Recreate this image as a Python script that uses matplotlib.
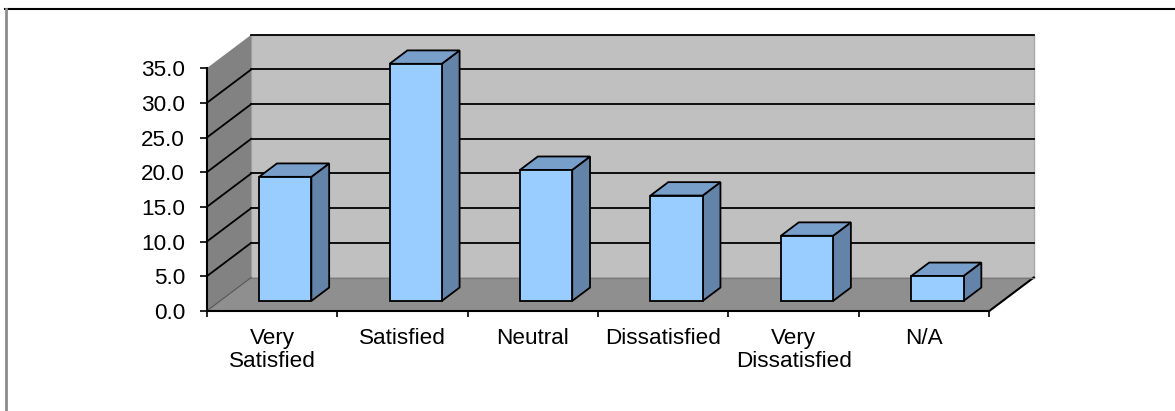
import matplotlib
matplotlib.use("Agg")
import matplotlib.pyplot as plt
from matplotlib.patches import Polygon
from matplotlib.lines import Line2D

# Survey responses (percent)
categories = ["Very\nSatisfied", "Satisfied", "Neutral", "Dissatisfied",
              "Very\nDissatisfied", "N/A"]
values = [17.9, 34.2, 18.9, 15.2, 9.4, 3.6]
y_ticks = [0, 5, 10, 15, 20, 25, 30, 35]

plt.rcParams["font.family"] = ["Liberation Sans", "DejaVu Sans"]

W, H = 1175, 411
fig = plt.figure(figsize=(W / 100, H / 100), dpi=100)
fig.patch.set_facecolor("white")

# front plane of the plot area, in pixels
x_left, x_right = 206.7, 989.3
y_zero, y_top = 311.0, 68.3
ax = fig.add_axes([x_left / W, (H - y_zero) / H,
                   (x_right - x_left) / W, (y_zero - y_top) / H])
n = len(categories)
ymax = y_ticks[-1]
ax.set_xlim(0, n)
ax.set_ylim(0, ymax)
ax.patch.set_visible(False)

# oblique depth offset in data units
px_per_cat = (x_right - x_left) / n
px_per_val = (y_zero - y_top) / ymax
DX = 44.5 / px_per_cat
DY = 33.5 / px_per_val


def proj(x, y, z):
    return (x + z * DX, y + z * DY)


def poly(pts, fc, ec="none", lw=0.0, z=1):
    p = Polygon(pts, closed=True, facecolor=fc, edgecolor=ec, linewidth=lw,
                clip_on=False, zorder=z, joinstyle="miter")
    ax.add_patch(p)


# walls and floor
poly([proj(0, 0, 1), proj(n, 0, 1), proj(n, ymax, 1), proj(0, ymax, 1)],
     "#c0c0c0", ec="#a8a8a8", lw=1.0, z=1)
poly([proj(0, 0, 0), proj(0, ymax, 0), proj(0, ymax, 1), proj(0, 0, 1)],
     "#828282", z=1)
poly([proj(0, 0, 0), proj(n, 0, 0), proj(n, 0, 1), proj(0, 0, 1)],
     "#8f8f8f", z=1.1)

# floor right edge
ax.add_line(Line2D(*zip(proj(n, 0, 0), proj(n, 0, 1)), color="black",
                   lw=1.5, clip_on=False, zorder=1.2))
# floor back/left seams
ax.add_line(Line2D(*zip(proj(0, 0, 0), proj(0, 0, 1)), color="#555555",
                   lw=0.8, clip_on=False, zorder=1.2))
ax.add_line(Line2D(*zip(proj(0, 0, 1), proj(n, 0, 1)), color="#7a7a7a",
                   lw=0.8, clip_on=False, zorder=1.2))

# gridlines on side wall and back wall
for v in y_ticks[1:]:
    if v < ymax:
        ax.add_line(Line2D(*zip(proj(0, v, 0), proj(0, v, 1)), color="black",
                           lw=1.3, clip_on=False, zorder=1.3))
    ax.add_line(Line2D(*zip(proj(0, v, 1), proj(n, v, 1)), color="black",
                       lw=1.3, clip_on=False, zorder=1.3))

# 3D bars
front_c, top_c, side_c = "#99ccff", "#789fca", "#6483a8"
z0, z1 = 0.3, 0.7
for i, v in enumerate(values):
    x0, x1 = i + 0.3, i + 0.7
    zo = 2 + i * 0.01
    poly([proj(x1, 0, z0), proj(x1, 0, z1), proj(x1, v, z1), proj(x1, v, z0)],
         side_c, ec="black", lw=1.3, z=zo)
    poly([proj(x0, v, z0), proj(x1, v, z0), proj(x1, v, z1), proj(x0, v, z1)],
         top_c, ec="black", lw=1.3, z=zo)
    poly([proj(x0, 0, z0), proj(x1, 0, z0), proj(x1, v, z0), proj(x0, v, z0)],
         front_c, ec="black", lw=1.3, z=zo + 0.001)

# axes lines and ticks
for s in ("top", "right"):
    ax.spines[s].set_visible(False)
ax.spines["left"].set_bounds(0, ymax)
ax.spines["bottom"].set_bounds(0, n)
for s in ("left", "bottom"):
    ax.spines[s].set_linewidth(1.5)
    ax.spines[s].set_zorder(3)

ax.set_yticks(y_ticks)
ax.set_yticklabels([f"{v:.1f}" for v in y_ticks])
ax.tick_params(axis="y", direction="out", length=5, width=1.2,
               labelsize=16.2, pad=10.5)

ax.set_xticks(range(n + 1))
ax.set_xticklabels([])
ax.set_xticks([i + 0.5 for i in range(n)], minor=True)
ax.set_xticklabels(categories, minor=True)
ax.tick_params(axis="x", which="major", direction="out", length=4.5, width=1.2)
ax.tick_params(axis="x", which="minor", length=0, labelsize=16.2, pad=12.5)
for lbl in ax.get_xticklabels(minor=True):
    lbl.set_linespacing(1.12)

# chart frame
fig.add_artist(Line2D([5 / W, 1.0], [1 - 9.3 / H, 1 - 9.3 / H],
                      transform=fig.transFigure, color="black", lw=1.5))
fig.add_artist(Line2D([6 / W, 6 / W], [0.0, 1 - 9.3 / H],
                      transform=fig.transFigure, color="#8c8c8c", lw=2.0))

fig.savefig("out.png", dpi=100, facecolor="white")
